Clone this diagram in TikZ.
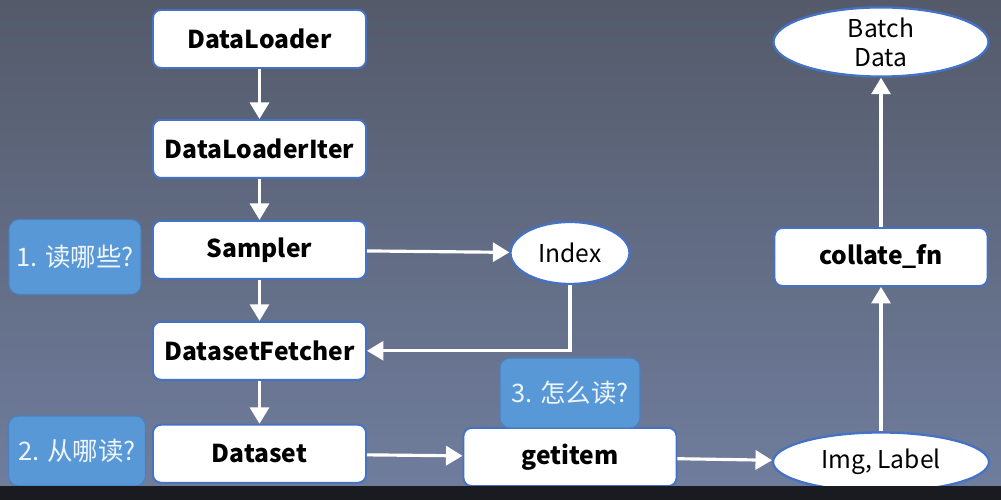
\documentclass[tikz,border=0pt]{standalone}
\usepackage{fontspec}
\setmainfont{Noto Sans CJK SC}
\usepackage{xcolor}
\usetikzlibrary{positioning,arrows.meta,shapes.geometric,calc}

\definecolor{bgtop}{RGB}{84,90,106}
\definecolor{bgbot}{RGB}{112,126,158}
\definecolor{boxline}{RGB}{68,114,196}
\definecolor{qfill}{RGB}{88,152,214}
\definecolor{qline}{RGB}{74,128,190}

\tikzset{
  flowbox/.style={rectangle, rounded corners=1.6mm, draw=boxline, line width=1.1pt, fill=white,
    minimum width=4.26cm, minimum height=1.16cm, font=\fontsize{14}{17}\selectfont\bfseries},
  dataoval/.style={ellipse, draw=boxline, line width=1.3pt, fill=white, inner sep=0pt,
    font=\fontsize{14}{15.5}\selectfont, align=center},
  question/.style={rectangle, rounded corners=2mm, draw=qline, line width=0.6pt, fill=qfill,
    text=white!90!qfill, minimum width=2.64cm, minimum height=1.5cm, font=\fontsize{14.5}{17}\selectfont},
  flow/.style={-{Triangle[length=3.3mm,width=3.8mm,fill=white]}, draw=white, line width=1.8pt}
}

\begin{document}
\begin{tikzpicture}[node distance=0.9cm]
\useasboundingbox (0,0) rectangle (20.02,10);
\shade[top color=bgtop, bottom color=bgbot] (0,0) rectangle (20.02,10);

% main column
\node[flowbox] (loader) at (5.19,9.22) {DataLoader};
\node[flowbox, below=1.0cm of loader] (iter) {DataLoaderIter};
\node[flowbox, below=0.82cm of iter] (sampler) {Sampler};
\node[flowbox, below=0.82cm of sampler] (fetcher) {DatasetFetcher};
\node[flowbox, below=0.86cm of fetcher] (dataset) {Dataset};
\node[flowbox] (getitem) at (11.4,0.86) {getitem};
\node[flowbox] (collate) at (17.62,4.86) {collate\_fn};

% data ovals
\node[dataoval, minimum width=2.38cm, minimum height=1.24cm] (index) at (11.4,4.94) {Index};
\node[dataoval, minimum width=4.32cm, minimum height=1.18cm] (imglabel) at (17.62,0.76) {Img, Label};
\node[dataoval, minimum width=4.3cm, minimum height=1.26cm] (batch) at (17.62,9.16) {Batch\\[1pt]Data};

% questions
\node[question] (q1) at (1.5,4.86) {1. 读哪些?};
\node[question, minimum width=2.74cm, minimum height=1.4cm] (q2) at (1.54,0.98) {2. 从哪读?};
\node[question, minimum width=2.8cm, minimum height=1.4cm] (q3) at (11.4,2.14) {3. 怎么读?};

\foreach \a/\b in {loader/iter, iter/sampler, sampler/fetcher, fetcher/dataset,
  sampler/index, dataset/getitem, getitem/imglabel, imglabel/collate, collate/batch}
  \draw[flow] (\a) -- (\b);
\draw[flow] (index.south) |- (fetcher.east);

% player strip
\fill[black!70!bgtop] (0,0) rectangle (20.02,0.27);
\end{tikzpicture}
\end{document}
